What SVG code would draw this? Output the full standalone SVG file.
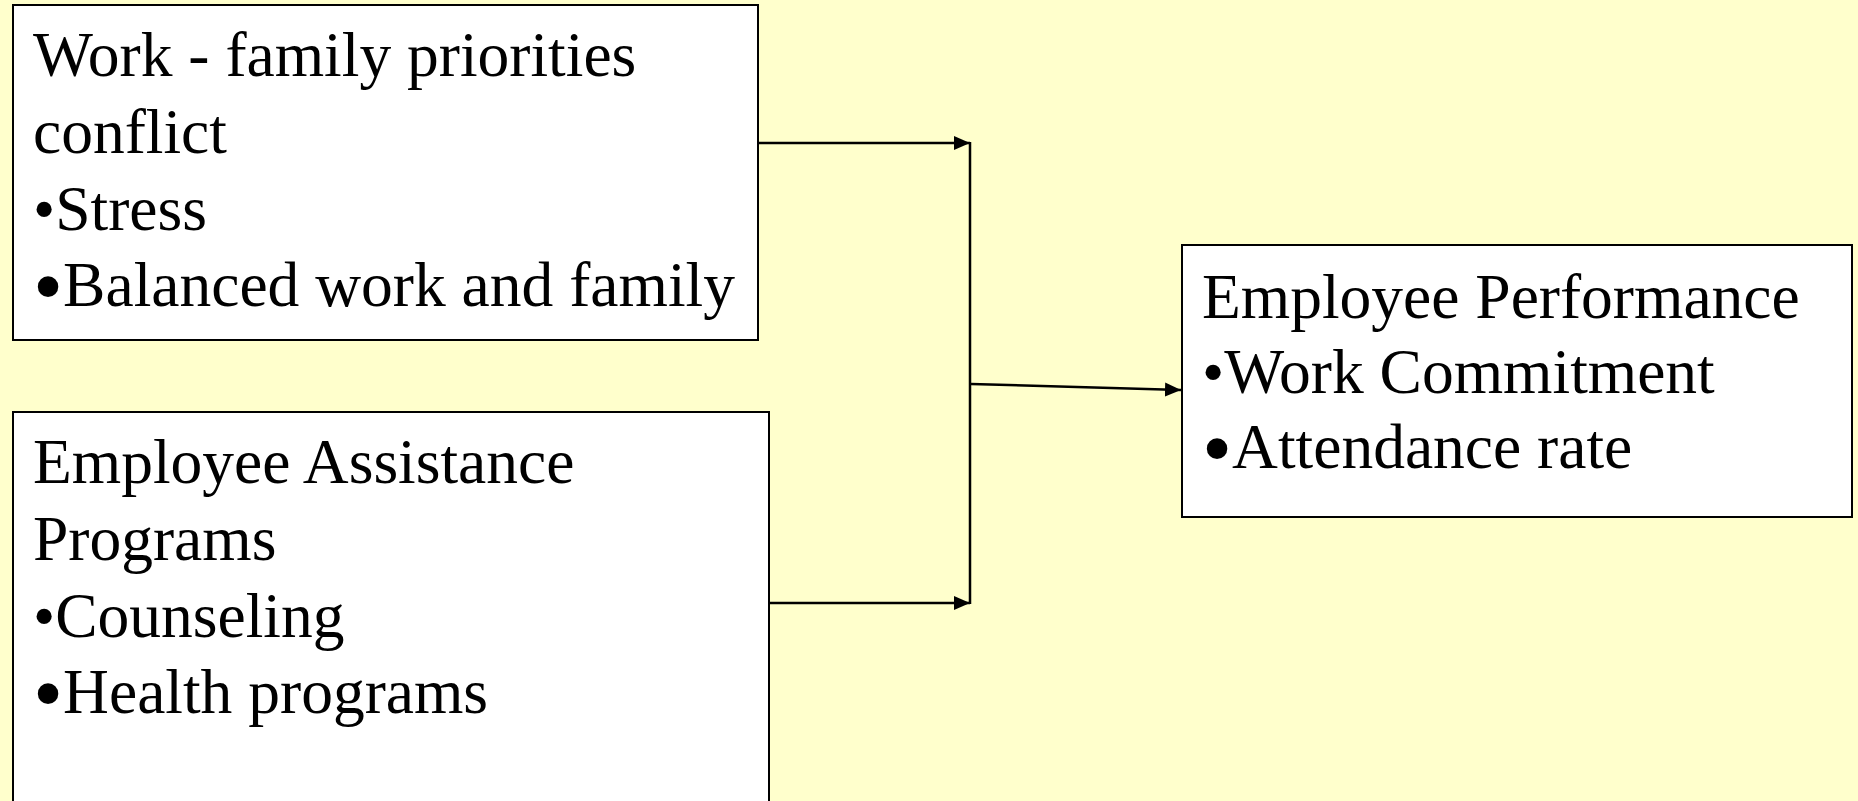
<svg xmlns="http://www.w3.org/2000/svg" width="1858" height="801" viewBox="0 0 1858 801">
<style>
.bg{fill:#FFFFCC}
.box{fill:#FFFFFF;stroke:#000000;stroke-width:2}
.t{font-family:"Liberation Serif","Times New Roman",serif;font-size:63.5px;fill:#000000}
.big{font-size:86px}
.conn{stroke:#000000;stroke-width:2.5;fill:none}
</style>
<defs>
<marker id="arr" markerUnits="userSpaceOnUse" markerWidth="16" markerHeight="16" viewBox="0 0 16 16" refX="16" refY="8" orient="auto">
<path d="M0,1 L16,8 L0,15 Z" fill="#000000"/>
</marker>
</defs>
<rect class="bg" x="0" y="0" width="1858" height="801"/>
<g id="node-work-family">
<rect class="box" x="13" y="5" width="745" height="335"/>
<text class="t" x="33" y="76">Work - family priorities</text>
<text class="t" x="33" y="153">conflict</text>
<text class="t" x="33" y="230">•Stress</text>
<text class="t" x="33" y="306"><tspan class="big" dy="9">•</tspan><tspan dy="-9">Balanced work and family</tspan></text>
</g>
<g id="node-eap">
<rect class="box" x="13" y="412" width="756" height="400"/>
<text class="t" x="33" y="483">Employee Assistance</text>
<text class="t" x="33" y="560">Programs</text>
<text class="t" x="33" y="637">•Counseling</text>
<text class="t" x="33" y="713"><tspan class="big" dy="9">•</tspan><tspan dy="-9">Health programs</tspan></text>
</g>
<g id="node-performance">
<rect class="box" x="1182" y="245" width="670" height="272"/>
<text class="t" x="1202" y="318">Employee Performance</text>
<text class="t" x="1202" y="393">•Work Commitment</text>
<text class="t" x="1202" y="468"><tspan class="big" dy="9">•</tspan><tspan dy="-9">Attendance rate</tspan></text>
</g>
<g id="connectors">
<path class="conn" d="M758,143 L970,143" marker-end="url(#arr)"/>
<path class="conn" d="M769,603 L970,603" marker-end="url(#arr)"/>
<path class="conn" d="M970,142 L970,604"/>
<path class="conn" d="M971,384 L1181,390" marker-end="url(#arr)"/>
</g>
</svg>
